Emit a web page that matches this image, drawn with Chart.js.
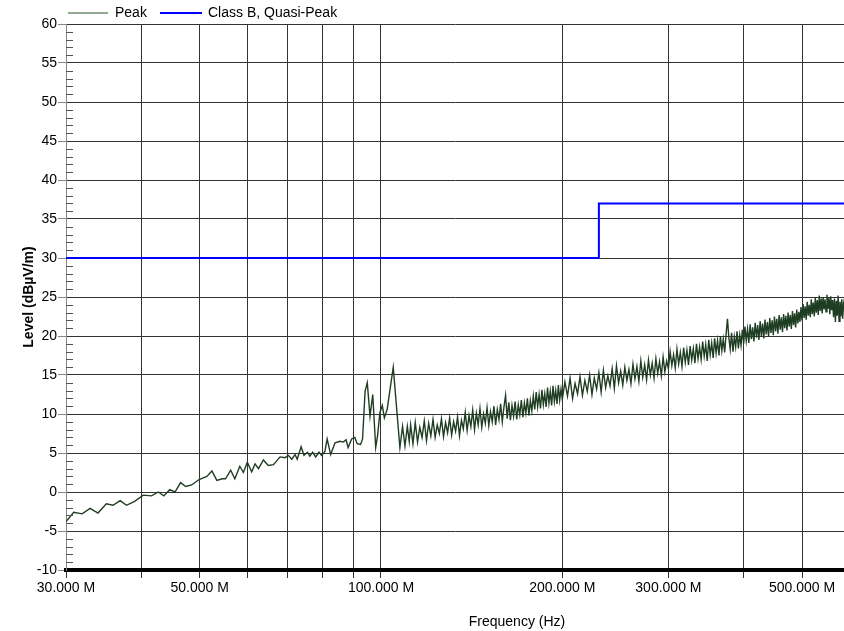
<!DOCTYPE html>
<html>
<head>
<meta charset="utf-8">
<script src="https://cdn.jsdelivr.net/npm/chart.js@4.4.0/dist/chart.umd.min.js"></script>
<style>
body { margin: 0; background: #fff; overflow: hidden; }
</style>
</head>
<body>
<canvas id="emichart" width="844" height="631"></canvas>
<script>
// Peak sweep, 30 - 112 MHz (read point by point)
const lowFreq = [30.0, 30.9, 31.9, 32.9, 33.9, 35.0, 35.9, 36.9, 37.8, 39.0,
  40.3, 41.6, 42.7, 43.6, 44.6, 45.5, 46.5, 47.4, 48.5, 49.9,
  51.4, 52.4, 53.4, 54.5, 55.2, 56.3, 57.2, 58.3, 59.1, 60.0,
  61.0, 61.8, 62.6, 63.8, 65.0, 66.3, 68.0, 69.3, 70.2, 71.1,
  72.0, 72.6, 73.7, 74.5, 75.5, 76.2, 77.0, 77.9, 78.9, 79.7,
  80.7, 81.4, 82.5, 83.9, 85.5, 86.6, 87.5, 88.2, 89.4, 90.5,
  91.3, 92.5, 93.2, 94.1, 94.9, 95.9, 96.9, 98.0, 98.7, 99.6,
  100.5, 101.3, 102.4, 104.8, 106.2, 107.5, 108.6, 109.6, 110.6, 111.4];
const lowLevel = [-3.8, -2.6, -2.8, -2.1, -2.7, -1.5, -1.7, -1.1, -1.7, -1.2,
  -0.4, -0.5, 0.0, -0.5, 0.3, 0.0, 1.2, 0.7, 0.9, 1.6,
  2.0, 2.7, 1.5, 1.7, 1.7, 2.8, 1.7, 3.3, 2.5, 3.8,
  2.6, 3.6, 3.0, 4.1, 3.4, 3.5, 4.5, 4.4, 4.7, 4.2,
  4.8, 4.2, 5.8, 4.7, 5.1, 4.6, 5.1, 4.5, 5.1, 4.7,
  5.2, 6.8, 4.8, 6.3, 6.5, 6.4, 6.7, 5.7, 6.8, 7.0,
  6.2, 6.1, 6.8, 12.9, 14.0, 9.7, 12.5, 5.7, 7.2, 10.2,
  11.1, 9.5, 10.6, 16.0, 10.6, 5.7, 8.4, 5.9, 8.4, 6.5];

// Peak sweep, 112 - 199 MHz
const midFreq = [112, 113, 114, 115, 116, 117, 118, 119, 120, 121,
  122, 123, 124, 125, 126, 127, 128, 129, 130, 131,
  132, 133, 134, 135, 136, 137, 138, 139, 140, 141,
  142, 143, 144, 145, 146, 147, 148, 149, 150, 151,
  152, 153, 154, 155, 156, 157, 158, 159, 160, 161,
  162, 163, 164, 165, 166, 167, 168, 169, 170, 171,
  172, 173, 174, 175, 176, 177, 178, 179, 180, 181,
  182, 183, 184, 185, 186, 187, 188, 189, 190, 191,
  192, 193, 194, 195, 196, 197, 198, 199];
const midLevel = [8.6, 6.2, 8.9, 6.4, 8.3, 7.0, 9.1, 6.6, 8.8, 7.2,
  9.3, 7.0, 8.6, 7.5, 9.4, 7.1, 8.9, 7.6, 9.5, 7.3,
  9.0, 7.8, 9.6, 7.2, 9.2, 8.1, 10.2, 7.9, 9.8, 8.4,
  10.5, 8.0, 10.1, 8.6, 10.7, 8.3, 10.0, 8.8, 10.8, 8.5,
  10.3, 9.0, 11.0, 8.6, 10.6, 9.3, 11.3, 9.0, 10.9, 12.4,
  9.4, 11.5, 9.2, 11.1, 9.7, 11.6, 9.3, 11.2, 9.9, 11.8,
  9.6, 11.4, 10.1, 12.0, 9.8, 11.7, 10.4, 12.3, 10.6, 12.8,
  10.9, 12.5, 10.7, 13.1, 11.2, 12.6, 10.9, 13.4, 11.4, 12.9,
  11.1, 13.6, 11.6, 13.0, 11.3, 13.7, 11.8, 13.2];

// Peak sweep, 200 - 588 MHz
const highFreq = [200, 202, 204, 206, 208, 210, 212, 214, 216, 218,
  220, 222, 224, 226, 228, 230, 232, 234, 236, 238,
  240, 242, 244, 246, 248, 250, 252, 254, 256, 258,
  260, 262, 264, 266, 268, 270, 272, 274, 276, 278,
  280, 282, 284, 286, 288, 290, 292, 294, 296, 298,
  300, 302, 304, 306, 308, 310, 312, 314, 316, 318,
  320, 322, 324, 326, 328, 330, 332, 334, 336, 338,
  340, 342, 344, 346, 348, 350, 352, 354, 356, 358,
  360, 362, 364, 366, 368, 370, 372, 374, 376, 378,
  380, 382, 384, 386, 388, 390, 392, 394, 396, 398,
  400, 402, 404, 406, 408, 410, 412, 414, 416, 418,
  420, 422, 424, 426, 428, 430, 432, 434, 436, 438,
  440, 442, 444, 446, 448, 450, 452, 454, 456, 458,
  460, 462, 464, 466, 468, 470, 472, 474, 476, 478,
  480, 482, 484, 486, 488, 490, 492, 494, 496, 498,
  500, 502, 504, 506, 508, 510, 512, 514, 516, 518,
  520, 522, 524, 526, 528, 530, 532, 534, 536, 538,
  540, 542, 544, 546, 548, 550, 552, 554, 556, 558,
  560, 562, 564, 566, 568, 570, 572, 574, 576, 578,
  580, 582, 584, 586, 588];
const highLevel = [11.9, 14.1, 12.3, 14.6, 12.0, 13.9, 12.6, 14.8, 12.4, 14.3,
  12.9, 15.0, 12.5, 14.6, 13.2, 15.3, 12.8, 15.6, 13.4, 14.9,
  13.6, 15.8, 13.3, 16.2, 14.0, 15.5, 13.7, 16.0, 14.3, 15.7,
  13.9, 16.4, 14.5, 16.1, 14.2, 16.8, 14.7, 16.3, 14.4, 16.9,
  15.0, 16.5, 14.6, 17.1, 15.2, 16.7, 14.9, 17.3, 15.4, 16.8,
  15.8, 18.0, 16.2, 17.6, 15.9, 18.3, 16.4, 17.9, 16.1, 18.5,
  16.6, 18.2, 16.3, 18.7, 16.9, 18.4, 16.5, 19.0, 17.1, 18.6,
  17.0, 19.3, 17.4, 18.9, 16.8, 19.5, 17.6, 19.1, 17.2, 19.7,
  17.8, 19.4, 17.5, 20.0, 18.1, 19.6, 17.9, 20.2, 22.2, 19.8,
  18.3, 20.4, 18.0, 19.9, 18.6, 20.6, 18.4, 20.1, 18.8, 20.8,
  19.0, 21.2, 19.4, 20.9, 19.1, 21.5, 19.6, 21.1, 19.3, 21.7,
  19.8, 21.4, 19.5, 21.9, 20.0, 21.6, 19.7, 22.1, 20.2, 21.8,
  19.9, 22.3, 20.4, 22.0, 20.1, 22.5, 20.6, 22.2, 20.3, 22.7,
  20.8, 22.4, 20.5, 22.8, 21.0, 22.6, 20.7, 23.0, 21.2, 22.7,
  20.9, 23.2, 21.4, 22.9, 21.1, 23.4, 21.6, 23.1, 21.8, 23.7,
  22.0, 24.1, 22.3, 23.8, 22.1, 24.4, 22.6, 24.0, 22.4, 24.7,
  22.8, 24.3, 22.5, 24.9, 23.0, 24.6, 22.7, 25.2, 23.2, 24.8,
  22.9, 25.0, 23.4, 24.7, 23.1, 25.3, 23.5, 24.9, 22.8, 25.1,
  23.3, 24.6, 22.4, 24.8, 21.8, 24.5, 22.6, 25.2, 21.9, 24.4,
  22.5, 24.7, 22.2, 24.1, 23.4];

// Class B, Quasi-Peak limit
const limitFreq = [30, 230, 230, 1000];
const limitLevel = [30, 30, 37, 37];

// axis ticks (MHz)
const xTicks = [30, 40, 50, 60, 70, 80, 90, 100, 200, 300, 400, 500];
const xLabeled = [30, 50, 100, 200, 300, 500];

const peakColor = '#1f3d22';
const limitColor = '#0000ff';

function toPoints(freqs, levels) {
  let pts = [];
  for (let i = 0; i < freqs.length; i++) {
    pts.push({x: freqs[i], y: levels[i]});
  }
  return pts;
}

const peakData = toPoints(lowFreq, lowLevel)
  .concat(toPoints(midFreq, midLevel))
  .concat(toPoints(highFreq, highLevel));
const limitData = toPoints(limitFreq, limitLevel);

// minor ticks, legend and x title like the analyser software
const extras = {
  id: 'extras',
  afterDraw(c) {
    const ctx = c.ctx;
    const yScale = c.scales.y;
    const left = c.chartArea.left;
    ctx.save();
    ctx.strokeStyle = '#555';
    ctx.lineWidth = 1;
    for (let v = -10; v <= 60; v++) {
      if (v % 5 === 0) continue;
      const py = Math.round(yScale.getPixelForValue(v)) + 0.5;
      ctx.beginPath();
      ctx.moveTo(left, py);
      ctx.lineTo(left + 7, py);
      ctx.stroke();
    }

    ctx.font = '14px "Liberation Sans", Arial, sans-serif';
    ctx.textBaseline = 'middle';
    ctx.textAlign = 'left';
    ctx.fillStyle = '#000';
    // legend
    ctx.strokeStyle = '#6f8c6f';
    ctx.lineWidth = 1.5;
    ctx.beginPath();
    ctx.moveTo(68, 13);
    ctx.lineTo(108, 13);
    ctx.stroke();
    ctx.fillText('Peak', 115, 13);
    ctx.strokeStyle = limitColor;
    ctx.lineWidth = 2;
    ctx.beginPath();
    ctx.moveTo(160, 13);
    ctx.lineTo(202, 13);
    ctx.stroke();
    ctx.fillText('Class B, Quasi-Peak', 208, 13);

    ctx.textAlign = 'center';
    ctx.fillText('Frequency (Hz)', 517, 622);
    ctx.restore();
  }
};

const ctxEl = document.getElementById('emichart');

let emiChart = new Chart(ctxEl, {
  type: 'line',
  data: {
    datasets: [{
      label: 'Peak',
      data: peakData,
      borderColor: peakColor,
      borderWidth: 1.4,
      pointRadius: 0,
      tension: 0,
      fill: false
    }, {
      label: 'Class B, Quasi-Peak',
      data: limitData,
      borderColor: limitColor,
      borderWidth: 2,
      pointRadius: 0,
      tension: 0,
      fill: false
    }]
  },
  options: {
    responsive: false,
    animation: false,
    layout: {
      padding: {top: 24, left: 0, right: 0, bottom: 0}
    },
    plugins: {
      legend: {display: false},
      tooltip: {enabled: false}
    },
    scales: {
      x: {
        type: 'logarithmic',
        min: 30,
        max: 587,
        afterBuildTicks: function(scale) {
          scale.ticks = xTicks.map(v => ({value: v}));
        },
        afterFit: function(scale) {
          scale.height = 61;
        },
        ticks: {
          autoSkip: false,
          maxRotation: 0,
          padding: 2,
          color: '#000',
          font: {family: '"Liberation Sans", Arial, sans-serif', size: 14},
          callback: function(value) {
            return xLabeled.includes(value) ? value.toFixed(3) + ' M' : '';
          }
        },
        grid: {
          color: function(c) {
            return c.tick && c.tick.value === 30 ? '#888' : '#333';
          },
          lineWidth: 1,
          drawTicks: true,
          tickLength: 8,
          tickColor: '#333'
        },
        border: {display: true, color: '#000', width: 4}
      },
      y: {
        min: -10,
        max: 60,
        afterFit: function(scale) {
          scale.width = 66;
        },
        ticks: {
          stepSize: 5,
          padding: 1,
          color: '#000',
          font: {family: '"Liberation Sans", Arial, sans-serif', size: 14}
        },
        grid: {
          color: '#333',
          lineWidth: 1,
          drawTicks: true,
          tickLength: 8,
          tickColor: '#888'
        },
        border: {display: true, color: '#888', width: 1},
        title: {
          display: true,
          text: 'Level (dBµV/m)',
          color: '#000',
          font: {family: '"Liberation Sans", Arial, sans-serif', size: 14, weight: 'bold'},
          padding: {top: 21, bottom: 0}
        }
      }
    }
  },
  plugins: [extras]
});
</script>
</body>
</html>
